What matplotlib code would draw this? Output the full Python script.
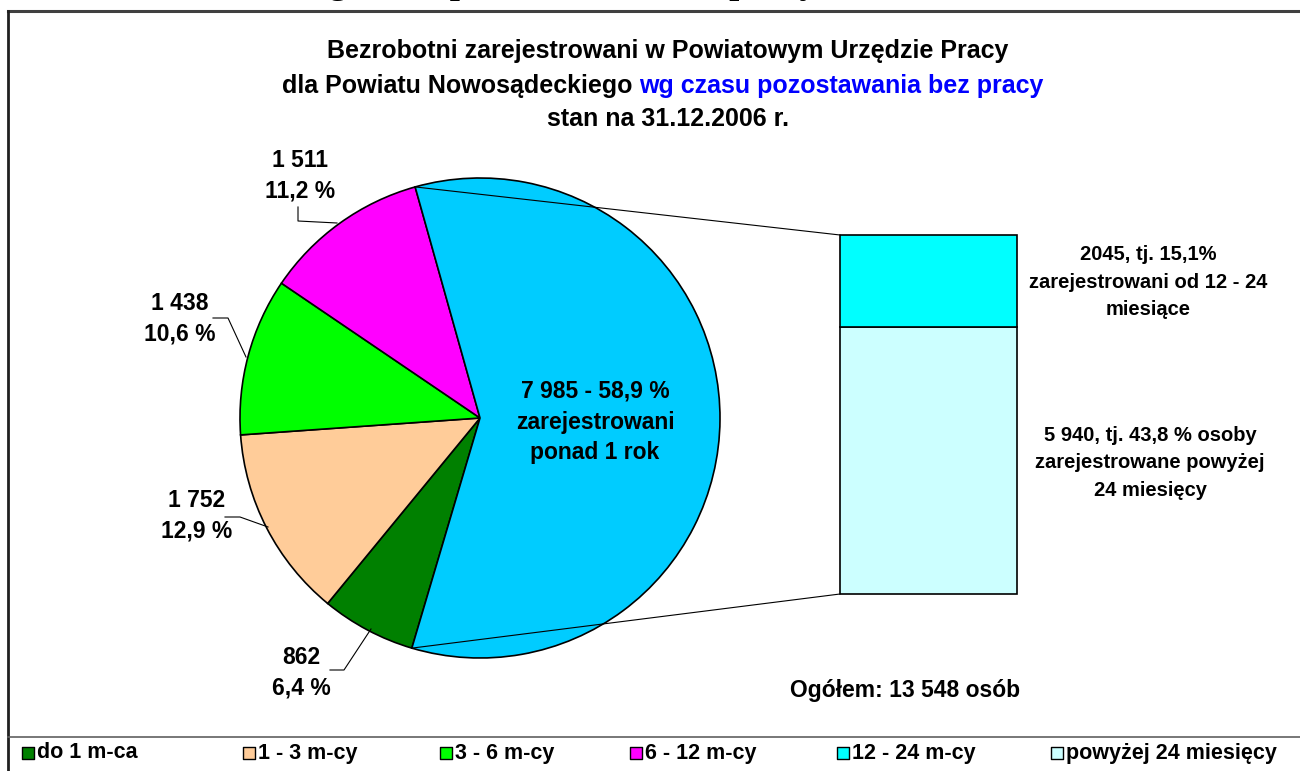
import numpy as np
import matplotlib.pyplot as plt

plt.rcParams['font.family'] = ['Liberation Sans', 'DejaVu Sans']

# data
pie_labels = ['do 1 m-ca', '1 - 3 m-cy', '3 - 6 m-cy', '6 - 12 m-cy', 'ponad 1 rok']
pie_values = [862, 1752, 1438, 1511, 7985]
pie_pct = ['6,4 %', '12,9 %', '10,6 %', '11,2 %', '58,9 %']
pie_colors = ['#008000', '#FFCC99', '#00FF00', '#FF00FF', '#00CCFF']

bar_labels = ['powyżej 24 miesięcy', '12 - 24 m-cy']
bar_values = [5940, 2045]
bar_colors = ['#CCFFFF', '#00FFFF']

legend_labels = ['do 1 m-ca', '1 - 3 m-cy', '3 - 6 m-cy', '6 - 12 m-cy', '12 - 24 m-cy', 'powyżej 24 miesięcy']
legend_colors = ['#008000', '#FFCC99', '#00FF00', '#FF00FF', '#00FFFF', '#CCFFFF']

W, H = 1300, 771
fig = plt.figure(figsize=(13, 7.71), dpi=100)
ax = fig.add_axes([0, 0, 1, 1])

def Y(y):
    # image row -> axes y
    return H - y

# pie
cx, cy, r = 480, Y(418), 240
wedges, _ = ax.pie(pie_values, colors=pie_colors, startangle=253.5, counterclock=False,
                   center=(cx, cy), radius=r, frame=True,
                   wedgeprops=dict(edgecolor='black', linewidth=1.2))

# bar of pie
bx, bw, bbot = 928.5, 177, Y(594)
scale = 359 / sum(bar_values)
bottom = bbot
for v, c in zip(bar_values, bar_colors):
    ax.bar(bx, v * scale, width=bw, bottom=bottom, color=c, edgecolor='black', linewidth=1.2, zorder=3)
    bottom += v * scale

# connector lines from the big wedge to the bar
big = wedges[-1]
t_top, t_bot = np.deg2rad(big.theta2), np.deg2rad(big.theta1)
ax.plot([cx + r * np.cos(t_top), bx - bw / 2], [cy + r * np.sin(t_top), bottom], color='black', lw=0.8)
ax.plot([cx + r * np.cos(t_bot), bx - bw / 2], [cy + r * np.sin(t_bot), bbot], color='black', lw=0.8)

# slice labels with leader lines
lab_fs = 16.5
lab_pos = [(301, 673), (197, 516), (180, 319), (300, 176)]
leaders = [
    [(330, 670), (344, 670), (371, 629)],
    [(225, 517), (240, 517), (268, 527)],
    [(213, 318), (228, 318), (246, 357)],
    [(298, 207), (298, 221), (337, 223)],
]
for i in range(4):
    v = f'{pie_values[i]:,}'.replace(',', ' ')
    x, y = lab_pos[i]
    ax.text(x, Y(y), f'{v}\n{pie_pct[i]}', ha='center', va='center', fontsize=lab_fs,
            fontweight='bold', linespacing=1.42)
    pts = leaders[i]
    ax.plot([p[0] for p in pts], [Y(p[1]) for p in pts], color='black', lw=0.8)

ax.text(595, Y(422), '7 985 - 58,9 %\nzarejestrowani\nponad 1 rok', ha='center', va='center',
        fontsize=lab_fs, fontweight='bold', linespacing=1.42)

# bar texts
ax.text(1148, Y(282), '2045, tj. 15,1%\nzarejestrowani od 12 - 24\nmiesiące', ha='center', va='center',
        fontsize=14.5, fontweight='bold', linespacing=1.55)
ax.text(1150, Y(463), '5 940, tj. 43,8 % osoby\nzarejestrowane powyżej\n24 miesięcy', ha='center', va='center',
        fontsize=14.5, fontweight='bold', linespacing=1.55)
ax.text(905, Y(690), 'Ogółem: 13 548 osób', ha='center', va='center', fontsize=16.5, fontweight='bold')

# titles
tfs = 18
ax.text(668, Y(51), 'Bezrobotni zarejestrowani w Powiatowym Urzędzie Pracy', ha='center', va='center',
        fontsize=tfs, fontweight='bold')
t1 = 'dla Powiatu Nowosądeckiego '
t2 = 'wg czasu pozostawania bez pracy'
fig.canvas.draw()
tmp = ax.text(0, 0, t1 + t2, fontsize=tfs, fontweight='bold')
full_w = tmp.get_window_extent().width
tmp.remove()
tmp = ax.text(0, 0, t1, fontsize=tfs, fontweight='bold')
w1 = tmp.get_window_extent().width
tmp.remove()
x0 = 663 - full_w / 2
ax.text(x0, Y(86), t1, ha='left', va='center', fontsize=tfs, fontweight='bold')
ax.text(x0 + w1, Y(86), t2, ha='left', va='center', fontsize=tfs, fontweight='bold', color='#0000FF')
ax.text(668, Y(119), 'stan na 31.12.2006 r.', ha='center', va='center', fontsize=tfs, fontweight='bold')

# clipped heading above the frame
ax.text(818, Y(-7), 'wg czasu pozostawania bez pracy', ha='right', va='baseline', fontsize=26,
        fontweight='bold', family='Liberation Serif')

# frame
ax.plot([8, W], [Y(11), Y(11)], color='#404040', lw=2.2)
ax.plot([8, 8], [Y(11), 0], color='#202020', lw=2)
ax.plot([8, W], [Y(737), Y(737)], color='#606060', lw=1.2)

# legend
leg_x = [28, 249, 446, 636, 843, 1057]
for x, lab, c in zip(leg_x, legend_labels, legend_colors):
    ax.scatter([x], [Y(753)], marker='s', s=80, color=c, edgecolor='black', linewidth=1, zorder=4)
    ax.text(x + 9, Y(753), lab, ha='left', va='center', fontsize=15.5, fontweight='bold')

ax.set_xlim(0, W)
ax.set_ylim(0, H)
ax.set_aspect('equal')
ax.axis('off')

fig.savefig('out.png', dpi=100)
